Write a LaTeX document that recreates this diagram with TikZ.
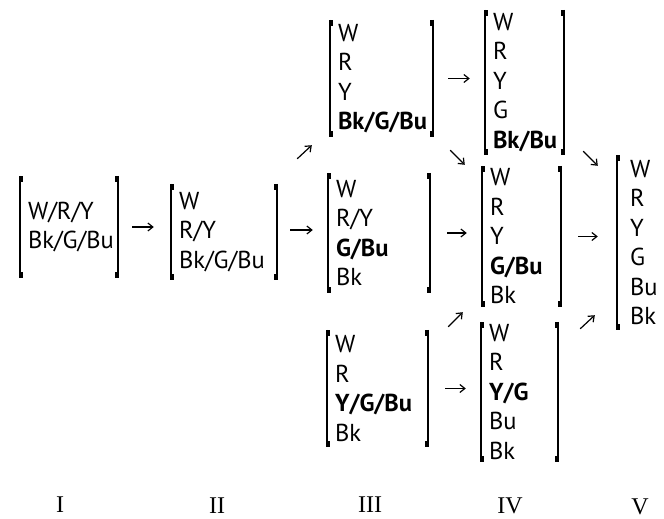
\documentclass[tikz,border=0pt]{standalone}
\usepackage{fontspec}
\setmainfont{PT Sans}
\newfontfamily\numfont{Liberation Serif}
\usetikzlibrary{arrows.meta}

\newcommand\lbrk[1]{%
  \draw[brk] (#1.north west) -- (#1.south west);
  \fill ([shift={(-1,0)}]#1.north west) rectangle ++(4,6);
  \fill ([shift={(-1,0)}]#1.south west) rectangle ++(4,-6);}
\newcommand\rbrk[1]{%
  \draw[brk] (#1.north east) -- (#1.south east);
  \fill ([shift={(1,0)}]#1.north east) rectangle ++(-4,6);
  \fill ([shift={(1,0)}]#1.south east) rectangle ++(-4,-6);}

\begin{document}
\begin{tikzpicture}[
  x=1pt, y=-1pt,
  grp/.style={inner xsep=8pt, inner ysep=0pt, align=left, font=\fontsize{24.5}{29.5}\selectfont},
  brk/.style={line width=2pt},
  arr/.style={-{Straight Barb[length=5pt, width=8pt]}, line width=1.2pt},
  num/.style={anchor=base, font=\numfont\fontsize{24}{24}\selectfont}
]
\useasboundingbox (0,0) rectangle (664,519);

\node[grp, text width=82pt, minimum height=102pt] (gI) at (69,227) {W/R/Y\\Bk/G/Bu};
\node[grp, text width=90pt, minimum height=96pt] (gII) at (224,232) {W\\R/Y\\Bk/G/Bu};
\node[grp, text width=87pt, minimum height=117pt] (gIIIa) at (381.5,78.5) {W\\R\\Y\\\textbf{Bk/G/Bu}};
\node[grp, text width=86pt, minimum height=120pt] (gIIIb) at (379,233) {W\\R/Y\\\textbf{G/Bu}\\Bk};
\node[grp, text width=85pt, minimum height=117pt] (gIIIc) at (377.5,388.5) {W\\R\\\textbf{Y/G/Bu}\\Bk};
\node[grp, text width=63pt, minimum height=145pt] (gIVa) at (524.5,82.5) {W\\R\\Y\\G\\\textbf{Bk/Bu}};
\node[grp, text width=63pt, minimum height=141pt] (gIVb) at (521.5,236.5) {W\\R\\Y\\\textbf{G/Bu}\\Bk};
\node[grp, text width=61pt, minimum height=140pt] (gIVc) at (519.5,392) {W\\R\\\textbf{Y/G}\\Bu\\Bk};
\node[grp, inner xsep=13pt, text width=30pt, minimum height=175pt] (gV) at (645,242.5) {W\\R\\Y\\G\\Bu\\Bk};

\foreach \g in {gI,gII,gIIIa,gIIIb,gIIIc,gIVa,gIVb,gIVc} {\lbrk{\g} \rbrk{\g}}
\lbrk{gV}

\draw[arr] ([shift={(14,0)}]gI.east) -- ([shift={(-17,0)}]gI.east -| gII.west);
\draw[arr] ([shift={(13,-2)}]gII.east) -- ([shift={(-15,-2)}]gII.east -| gIIIb.west);
\draw[arr] ([shift={(20,-25)}]gII.north east) -- ([shift={(-18,8)}]gIIIa.south west);
\draw[arr] ([shift={(15,0)}]gIIIa.east) -- ([shift={(-15,0)}]gIIIa.east -| gIVa.west);
\draw[arr] ([shift={(17,13)}]gIIIa.south east) -- ([shift={(-17,-1)}]gIVb.north west);
\draw[arr] ([shift={(17,0)}]gIIIb.east) -- ([shift={(-15,0)}]gIIIb.east -| gIVb.west);
\draw[arr] ([shift={(20,-3)}]gIIIc.north east) -- ([shift={(-19,5)}]gIVb.south west);
\draw[arr] ([shift={(17,0)}]gIIIc.east) -- ([shift={(-15,0)}]gIIIc.east -| gIVc.west);
\draw[arr] ([shift={(19,-4)}]gIVa.south east) -- ([shift={(-19,11)}]gV.north west);
\draw[arr] ([shift={(17,0)}]gIVb.east) -- ([shift={(-19,0)}]gIVb.east -| gV.west);
\draw[arr] ([shift={(22,7)}]gIVc.north east) -- ([shift={(-22,-15)}]gV.south west);

\node[num] (nI) at (60,512) {I};
\node[num] (nII) at (217,513) {II};
\node[num] (nIII) at (370,512) {III};
\node[num] (nIV) at (510,513) {IV};
\node[num] (nV) at (640,514) {V};
\end{tikzpicture}
\end{document}
